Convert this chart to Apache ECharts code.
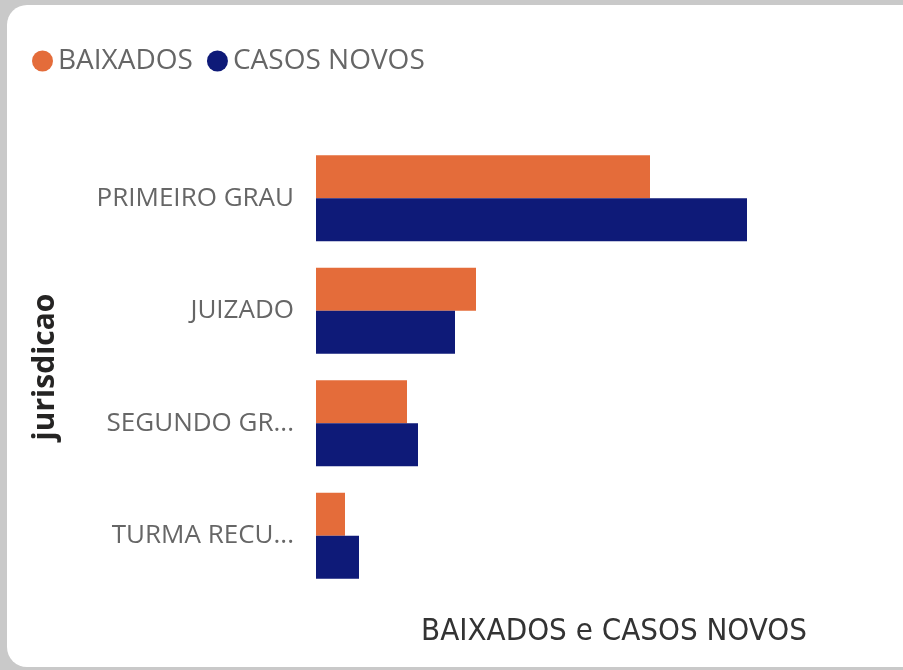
<!DOCTYPE html>
<html>
<head>
<meta charset="utf-8">
<script src="https://cdn.jsdelivr.net/npm/echarts@6/dist/echarts.min.js"></script>
<style>
html, body { margin: 0; padding: 0; width: 903px; height: 670px; overflow: hidden; background: #c9c9c9; }
.card { position: absolute; left: 7px; top: 5px; width: 940px; height: 662px; background: #fff; border-radius: 20px; }
#chart { position: absolute; left: 0; top: 0; width: 903px; height: 670px; }
</style>
</head>
<body>
<div class="card"></div>
<div id="chart"></div>
<script>
// dados (escala relativa)
const categorias = ['PRIMEIRO GRAU', 'JUIZADO', 'SEGUNDO GR...', 'TURMA RECU...']
const baixados = [3340, 1600, 910, 290]
const casosNovos = [4310, 1390, 1020, 430]
const cores = ['#E46C3A', '#0E1A78']

const chart = echarts.init(document.getElementById('chart'), null, { renderer: 'canvas' })
const option = {
    animation: false,
    color: cores,
    legend: {
        left: 27, top: 42,
        icon: 'circle',
        itemWidth: 21, itemHeight: 21,
        itemGap: 14,
        textStyle: { color: '#666', fontSize: 28, fontFamily: 'Open Sans' },
        data: ['BAIXADOS', 'CASOS NOVOS']
    },
    grid: { left: 316, right: 87, top: 142, bottom: 78, containLabel: false },
    xAxis: {
        type: 'value',
        min: 0, max: 5000,
        show: true,
        axisLine: { show: false },
        axisTick: { show: false },
        axisLabel: { show: false },
        splitLine: { show: false },
        name: 'BAIXADOS e CASOS NOVOS',
        nameLocation: 'middle',
        nameGap: 24,
        nameTextStyle: {
            color: '#333', fontSize: 31, fontFamily: 'DejaVu Sans Condensed',
            padding: [0, 0, 0, 96], verticalAlign: 'top'
        }
    },
    yAxis: {
        type: 'category',
        inverse: true,
        data: categorias,
        axisLine: { show: false },
        axisTick: { show: false },
        axisLabel: { color: '#666', fontSize: 26, fontFamily: 'Open Sans', margin: 22 },
        name: 'jurisdicao',
        nameLocation: 'middle',
        nameGap: 256,
        nameRotate: 90,
        nameTextStyle: { color: '#252423', fontSize: 30, fontWeight: 'bold', fontFamily: 'Open Sans' }
    },
    series: [
        { name: 'BAIXADOS', type: 'bar', data: baixados, barWidth: 43, barGap: '0%' },
        { name: 'CASOS NOVOS', type: 'bar', data: casosNovos, barWidth: 43, barGap: '0%' }
    ]
}
chart.setOption(option)
</script>
</body>
</html>
